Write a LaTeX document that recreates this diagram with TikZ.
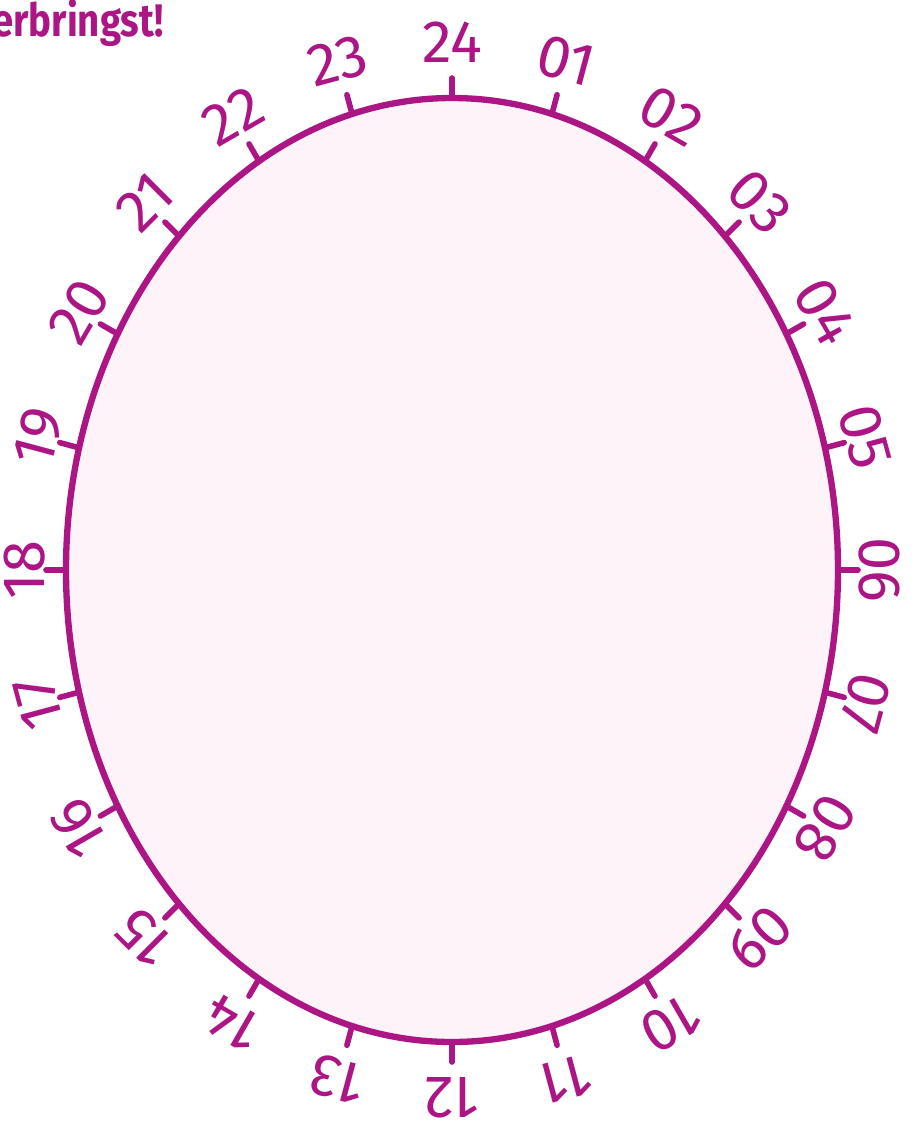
\documentclass[tikz,border=0pt]{standalone}
\usepackage{fontspec}
\setmainfont{Fira Sans}
\usepackage{xcolor}
\usetikzlibrary{calc}

\definecolor{clockline}{RGB}{172,22,132}
\definecolor{clockfill}{RGB}{253,243,249}

\tikzset{
  hourtick/.style={clockline, line width=3.2pt, line cap=round},
  hourlabel/.style={text=clockline, inner sep=0pt, font=\fontsize{34}{34}\selectfont},
}

\begin{document}
\begin{tikzpicture}[x=0.02cm,y=-0.02cm]
\useasboundingbox (0,0) rectangle (918,1137);
\def\cx{452}
\def\cy{570}
\def\rx{386}
\def\ry{472}
\def\ticklen{20}

% clock face
\draw[clockline, fill=clockfill, line width=3.6pt] (\cx,\cy) ellipse [x radius=\rx, y radius=\ry];

% hour ticks and labels
\foreach \h/\txt in {0/24,1/01,2/02,3/03,4/04,5/05,6/06,7/07,8/08,9/09,10/10,11/11,
                     12/12,13/13,14/14,15/15,16/16,17/17,18/18,19/19,20/20,21/21,22/22,23/23}{
  \pgfmathsetmacro{\ang}{90-15*\h}
  \pgfmathsetmacro{\gap}{41+15*sin(\ang)^2}
  \coordinate (foot\h) at ({\cx+\rx*cos(\ang)},{\cy-\ry*sin(\ang)});
  \coordinate (tip\h) at ({\cx+(\rx+\ticklen)*cos(\ang)},{\cy-(\ry+\ticklen)*sin(\ang)});
  \draw[hourtick] (foot\h) -- (tip\h);
  \node[hourlabel, rotate=\ang-90] (hour\h)
    at ({\cx+(\rx+\gap)*cos(\ang)},{\cy-(\ry+\gap)*sin(\ang)}) {\txt};
}

% cut-off heading
\node[text=clockline, anchor=base west, inner sep=0pt, xscale=0.84,
      font=\bfseries\fontsize{26}{26}\selectfont] (heading) at (-8,36) {erbringst!};
\end{tikzpicture}
\end{document}
